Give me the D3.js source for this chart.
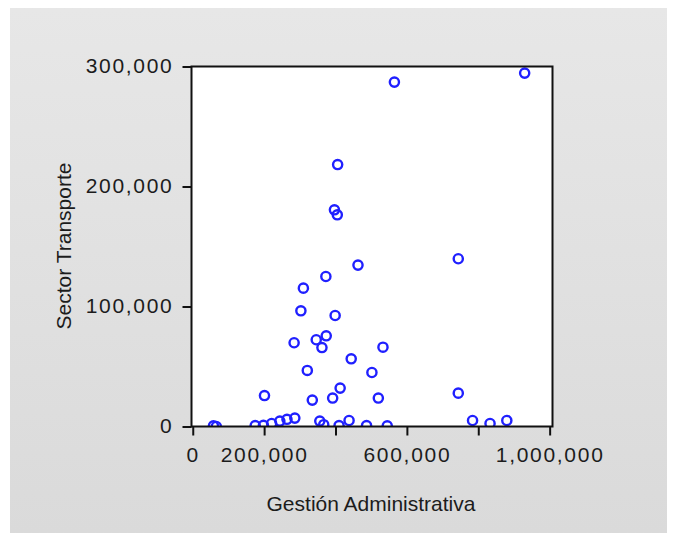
<!DOCTYPE html>
<html>
<head>
<meta charset="utf-8">
<script src="https://cdn.jsdelivr.net/npm/d3@7"></script>
<style>
  body { margin: 0; background: #fff; }
</style>
</head>
<body>
<div id="chart"></div>
<script>
// Gestión Administrativa (x) vs Sector Transporte (y)
var gestion = [
  565000, 930000, 406000, 397000, 405000, 744000, 463000, 373000, 310000, 303000,
  399000, 284000, 346000, 374000, 362000, 533000, 444000, 321000, 502000, 201000,
  335000, 413000, 392000, 520000, 744000, 784000, 833000, 880000, 58000, 66000,
  175000, 198000, 221000, 244000, 264000, 286000, 356000, 367000, 410000, 438000,
  487000, 545000
];
var transporte = [
  287000, 294500, 218300, 180600, 176400, 139800, 134500, 125000, 115300, 96400,
  92500, 69800, 72300, 75600, 65800, 66100, 56400, 46700, 45000, 25800,
  22000, 32000, 23700, 23700, 27800, 5000, 2500, 5000, 500, 0,
  800, 1000, 2500, 4500, 6000, 7000, 4500, 1500, 700, 5000,
  700, 500
];
var xTicks = [0, 200000, 400000, 600000, 800000, 1000000];
var xTickLabels = [0, 200000, 600000, 1000000];
var yTicks = [0, 100000, 200000, 300000];

var svgWidth = 675,
  svgHeight = 533,
  plotLeft = 191.5,
  plotRight = 552.5,
  plotTop = 66.5,
  plotBottom = 426.5,
  tickLength = 9,
  textColor = "#1c1c1c",
  fontFamily = "'Liberation Sans', Arial, sans-serif";

var points = gestion.map(function(d, i) { return [d, transporte[i]]; });

var x = d3.scaleLinear().domain([-3500, 1008000]).range([plotLeft, plotRight]);
var y = d3.scaleLinear().domain([0, 300000]).range([plotBottom, plotTop]);
var fmt = d3.format(",");

var svg = d3.select("#chart")
  .append("svg")
  .attr("width", svgWidth)
  .attr("height", svgHeight);

var defs = svg.append("defs");
var grad = defs.append("linearGradient")
  .attr("id", "panelGrad")
  .attr("x1", 0).attr("y1", 0).attr("x2", 0).attr("y2", 1);
grad.append("stop").attr("offset", "0%").attr("stop-color", "#e7e7e7");
grad.append("stop").attr("offset", "100%").attr("stop-color", "#dadada");

defs.append("clipPath")
  .attr("id", "plotClip")
  .append("rect")
  .attr("x", plotLeft)
  .attr("y", plotTop)
  .attr("width", plotRight - plotLeft)
  .attr("height", plotBottom - plotTop);

// gray panel behind everything
svg.append("rect")
  .attr("x", 10)
  .attr("y", 8)
  .attr("width", 657)
  .attr("height", 525)
  .attr("fill", "url(#panelGrad)");

// white plot area
svg.append("rect")
  .attr("x", plotLeft)
  .attr("y", plotTop)
  .attr("width", plotRight - plotLeft)
  .attr("height", plotBottom - plotTop)
  .attr("fill", "#fff");

// markers
svg.append("g")
  .attr("clip-path", "url(#plotClip)")
  .selectAll("circle")
  .data(points)
  .enter()
  .append("circle")
  .attr("cx", function(d) { return x(d[0]); })
  .attr("cy", function(d) { return y(d[1]); })
  .attr("r", 4.6)
  .attr("fill", "none")
  .attr("stroke", "#2020ff")
  .attr("stroke-width", 2.4);

// frame
svg.append("rect")
  .attr("x", plotLeft)
  .attr("y", plotTop)
  .attr("width", plotRight - plotLeft)
  .attr("height", plotBottom - plotTop)
  .attr("fill", "none")
  .attr("stroke", "#111")
  .attr("stroke-width", 2);

// x axis
var xAxis = d3.axisBottom(x)
  .tickValues(xTicks)
  .tickSize(tickLength)
  .tickFormat(function(d) { return xTickLabels.indexOf(d) >= 0 ? fmt(d) : ""; });

var gx = svg.append("g")
  .attr("transform", "translate(0," + plotBottom + ")")
  .call(xAxis);
gx.select(".domain").remove();
gx.selectAll(".tick line").attr("stroke", "#111").attr("stroke-width", 2);
gx.selectAll(".tick text")
  .attr("fill", textColor)
  .attr("font-family", fontFamily)
  .attr("font-size", "21px")
  .attr("letter-spacing", "1.7px")
  .attr("y", 35)
  .attr("dy", 0);

// y axis
var yAxis = d3.axisLeft(y)
  .tickValues(yTicks)
  .tickSize(tickLength)
  .tickFormat(fmt);

var gy = svg.append("g")
  .attr("transform", "translate(" + plotLeft + ",0)")
  .call(yAxis);
gy.select(".domain").remove();
gy.selectAll(".tick line").attr("stroke", "#111").attr("stroke-width", 2);
gy.selectAll(".tick text")
  .attr("fill", textColor)
  .attr("font-family", fontFamily)
  .attr("font-size", "21px")
  .attr("letter-spacing", "1.7px")
  .attr("x", -18)
  .attr("dy", "0.3em");

// axis titles
svg.append("text")
  .text("Gestión Administrativa")
  .attr("x", 371)
  .attr("y", 511)
  .attr("font-family", fontFamily)
  .attr("font-size", "21px")
  .attr("fill", textColor)
  .style("text-anchor", "middle");

svg.append("text")
  .text("Sector Transporte")
  .attr("transform", "translate(71,246) rotate(-90)")
  .attr("font-family", fontFamily)
  .attr("font-size", "21px")
  .attr("fill", textColor)
  .style("text-anchor", "middle");
</script>
</body>
</html>
